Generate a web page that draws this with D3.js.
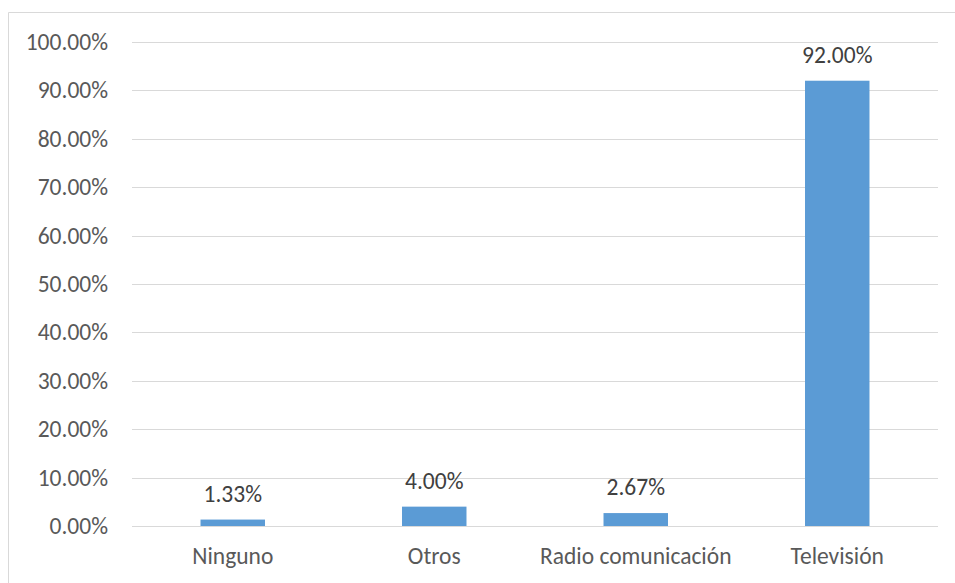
<!DOCTYPE html>
<html>
<head>
<meta charset="utf-8">
<script src="https://cdn.jsdelivr.net/npm/d3@7"></script>
<style>
  body { margin: 0; background: #fff; }
  svg text { font-family: Carlito, "Open Sans", "Liberation Sans", sans-serif; }
</style>
</head>
<body>
<div id="chart"></div>
<script>
// chart data
const categories = ["Ninguno", "Otros", "Radio comunicación", "Televisión"];
const values = [1.33, 4.00, 2.67, 92.00];
const yTicks = [0, 10, 20, 30, 40, 50, 60, 70, 80, 90, 100];

const W = 955, H = 583;
const margin = { top: 42, right: 17, bottom: 57, left: 132 };
const width = W - margin.left - margin.right,
  height = H - margin.top - margin.bottom;
const fontSize = "23.5px";

const svg = d3.select("#chart")
  .append("svg")
  .attr("width", W)
  .attr("height", H);

// outer chart frame (only top and left edges show in the crop)
svg.append("path")
  .attr("d", `M8.5,${H} L8.5,12.5 L${W},12.5`)
  .attr("fill", "none")
  .attr("stroke", "#d9d9d9")
  .attr("stroke-width", 1);

const g = svg.append("g")
  .attr("transform", `translate(${margin.left},${margin.top})`);

const x = d3.scaleBand()
  .domain(categories)
  .range([0, width])
  .paddingInner(0.68)
  .paddingOuter(0.34);

const y = d3.scaleLinear()
  .domain([0, 100])
  .range([height, 0]);

// gridlines
g.append("g")
  .selectAll("line")
  .data(yTicks)
  .enter()
  .append("line")
  .attr("x1", 0)
  .attr("x2", width)
  .attr("y1", d => Math.round(y(d)) + 0.5)
  .attr("y2", d => Math.round(y(d)) + 0.5)
  .attr("stroke", "#d9d9d9")
  .attr("stroke-width", 1);

// y axis labels
const yAxis = d3.axisLeft(y)
  .tickValues(yTicks)
  .tickSize(0)
  .tickPadding(24)
  .tickFormat(d => d.toFixed(2) + "%");

g.append("g")
  .call(yAxis)
  .call(s => s.select(".domain").remove())
  .selectAll("text")
  .attr("fill", "#595959")
  .attr("font-size", fontSize);

// x axis labels
g.append("g")
  .attr("transform", `translate(0,${height})`)
  .call(d3.axisBottom(x).tickSize(0))
  .call(s => s.select(".domain").remove())
  .selectAll("text")
  .attr("y", 38)
  .attr("dy", "0")
  .attr("fill", "#595959")
  .attr("font-size", fontSize);

const data = categories.map((c, i) => ({ cat: c, val: values[i] }));

g.selectAll(".bar")
  .data(data)
  .enter()
  .append("rect")
  .attr("class", "bar")
  .attr("x", d => x(d.cat))
  .attr("y", d => y(d.val))
  .attr("width", x.bandwidth())
  .attr("height", d => height - y(d.val))
  .attr("fill", "#5b9bd5");

g.selectAll(".label")
  .data(data)
  .enter()
  .append("text")
  .attr("class", "label")
  .attr("x", d => x(d.cat) + x.bandwidth() / 2)
  .attr("y", d => y(d.val) - 18)
  .attr("text-anchor", "middle")
  .attr("font-size", fontSize)
  .attr("fill", "#404040")
  .text(d => d.val.toFixed(2) + "%");
</script>
</body>
</html>
